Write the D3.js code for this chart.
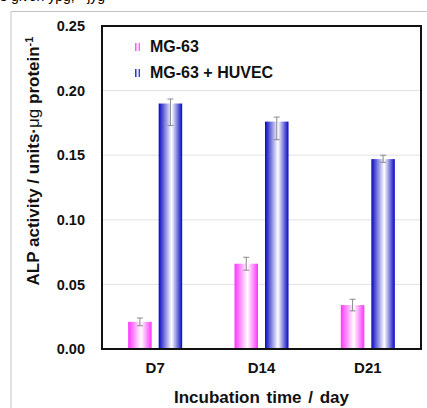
<!DOCTYPE html>
<html>
<head>
<meta charset="utf-8">
<script src="https://cdn.jsdelivr.net/npm/d3@7"></script>
<style>
  body { margin: 0; background: #fff; }
  svg { display: block; font-family: "Liberation Sans", Arial, sans-serif; font-weight: bold; }
</style>
</head>
<body>
<svg id="chart" width="427" height="408"></svg>
<script>
// data
const days = ["D7", "D14", "D21"];
const series = ["MG-63", "MG-63 + HUVEC"];
const mg63 = [0.021, 0.066, 0.034];
const mg63Up = [0.003, 0.005, 0.0045];
const mg63Down = [0.003, 0.005, 0.0045];
const coculture = [0.190, 0.176, 0.147];
const coUp = [0.0035, 0.0035, 0.003];
const coDown = [0.017, 0.014, 0.0025];
const yTicks = [0, 0.05, 0.10, 0.15, 0.20, 0.25];

const svg = d3.select("#chart");
const mLeft = 102, mRight = 421, mTop = 26, mBottom = 349;

// outer frame of the figure panel
svg.append("path")
  .attr("d", "M11,408 V11.5 H427")
  .attr("fill", "none").attr("stroke", "#c4c4c4").attr("stroke-width", 1);

// caption from above, cut off by the crop
svg.append("text")
  .attr("x", 0).attr("y", 1)
  .style("font-size", "14px").style("font-weight", "normal")
  .text("s given  ypg;  -  jyg");

// gradients
const defs = svg.append("defs");
function grad(id, col) {
  const g = defs.append("linearGradient").attr("id", id)
    .attr("x1", "0%").attr("x2", "100%").attr("y1", "0%").attr("y2", "0%");
  g.append("stop").attr("offset", "0%").attr("stop-color", col);
  g.append("stop").attr("offset", "55%").attr("stop-color", "#ffffff");
  g.append("stop").attr("offset", "100%").attr("stop-color", col);
}
grad("gPink", "#ff33ff");
grad("gBlue", "#0808c0");
const fills = ["url(#gPink)", "url(#gBlue)"];

const y = d3.scaleLinear().domain([0, 0.25]).range([mBottom, mTop]);
const x = d3.scaleBand().domain(days).range([mLeft, mRight]).padding(0);
const xs = d3.scaleBand().domain(series).range([-27, 27]).paddingInner(0.23);

// gridlines
svg.append("g").selectAll("line")
  .data(yTicks.filter(t => t > 0 && t < 0.25))
  .join("line")
  .attr("x1", mLeft).attr("x2", mRight)
  .attr("y1", d => y(d)).attr("y2", d => y(d))
  .attr("stroke", "#e2e2e2").attr("stroke-width", 1);

// y axis labels
const yAxis = svg.append("g")
  .attr("transform", `translate(${mLeft},0)`)
  .call(d3.axisLeft(y).tickValues(yTicks).tickFormat(d3.format(".2f")).tickSize(0).tickPadding(17));
yAxis.select(".domain").remove();
yAxis.selectAll("text")
  .style("font-size", "14.5px").style("font-weight", "bold")
  .style("font-family", "'Liberation Sans', Arial, sans-serif").attr("fill", "#111");

// bars
const rows = days.map((d, i) => ({
  day: d,
  vals: [
    { s: series[0], v: mg63[i], up: mg63Up[i], dn: mg63Down[i] },
    { s: series[1], v: coculture[i], up: coUp[i], dn: coDown[i] }
  ]
}));

const grp = svg.append("g").selectAll("g")
  .data(rows).join("g")
  .attr("transform", d => `translate(${x(d.day) + x.bandwidth() / 2},0)`);

grp.selectAll("rect")
  .data(d => d.vals).join("rect")
  .attr("x", d => xs(d.s))
  .attr("width", xs.bandwidth())
  .attr("y", d => y(d.v))
  .attr("height", d => y(0) - y(d.v))
  .attr("fill", (d, i) => fills[i]);

// error bars
const eb = grp.selectAll("g.err")
  .data(d => d.vals).join("g").attr("class", "err")
  .attr("transform", d => `translate(${xs(d.s) + xs.bandwidth() / 2},0)`);
eb.append("line")
  .attr("y1", d => y(d.v + d.up)).attr("y2", d => y(d.v - d.dn));
eb.append("line")
  .attr("x1", -3).attr("x2", 3)
  .attr("y1", d => y(d.v + d.up)).attr("y2", d => y(d.v + d.up));
eb.append("line")
  .attr("x1", -3).attr("x2", 3)
  .attr("y1", d => y(d.v - d.dn)).attr("y2", d => y(d.v - d.dn));
eb.selectAll("line").attr("stroke", "#8a8a8a").attr("stroke-width", 1);

// plot frame
svg.append("rect")
  .attr("x", mLeft).attr("y", mTop)
  .attr("width", mRight - mLeft).attr("height", mBottom - mTop)
  .attr("fill", "none").attr("stroke", "#111").attr("stroke-width", 2);

// x labels
svg.append("g").selectAll("text")
  .data(days).join("text")
  .attr("x", d => x(d) + x.bandwidth() / 2)
  .attr("y", 373)
  .attr("text-anchor", "middle")
  .style("font-size", "15px").attr("fill", "#111")
  .text(d => d);

// axis titles
svg.append("text")
  .attr("x", (mLeft + mRight) / 2).attr("y", 403)
  .attr("text-anchor", "middle")
  .style("font-size", "17px").style("word-spacing", "2px").attr("fill", "#111")
  .text("Incubation time / day");

const yt = svg.append("text")
  .attr("transform", "translate(39,161) rotate(-90)")
  .attr("text-anchor", "middle")
  .style("font-size", "17px").attr("fill", "#111");
yt.append("tspan").text("ALP activity / units\u00b7");
yt.append("tspan").style("font-weight", "normal").text("\u03bcg");
yt.append("tspan").text(" protein");
yt.append("tspan").attr("dy", -6).style("font-size", "11px").text("-1");

// legend
const leg = svg.append("g").selectAll("g")
  .data(series).join("g")
  .attr("transform", (d, i) => `translate(135,${52 + i * 26})`);
leg.append("rect")
  .attr("x", 0).attr("y", -9).attr("width", 5).attr("height", 8)
  .attr("fill", (d, i) => fills[i]);
leg.append("text")
  .attr("x", 15).attr("y", 0)
  .style("font-size", "16px").attr("fill", "#111")
  .text(d => d);
</script>
</body>
</html>
